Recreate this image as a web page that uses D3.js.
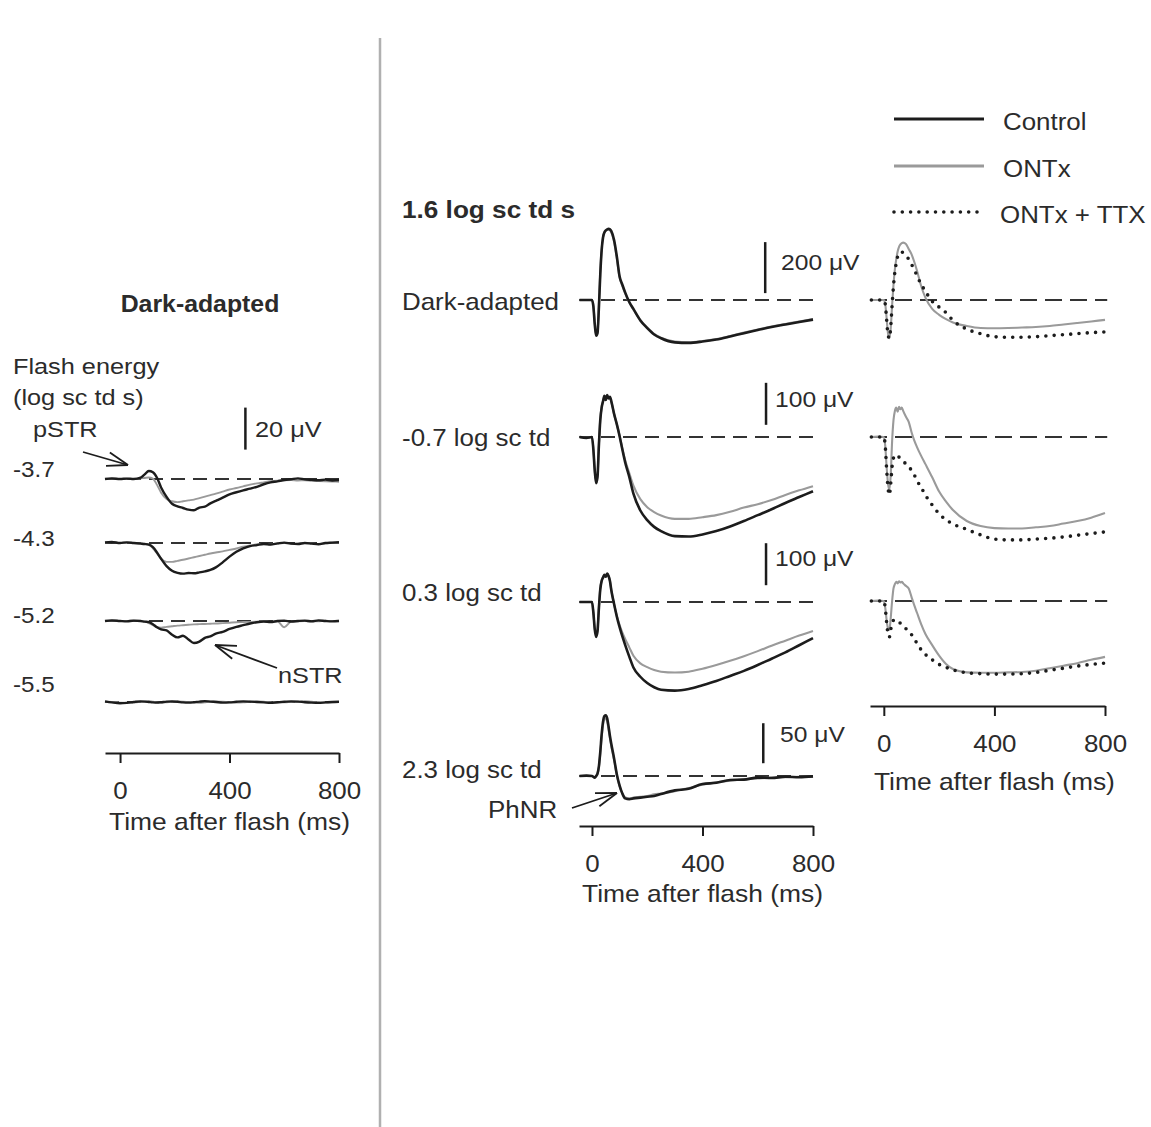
<!DOCTYPE html>
<html><head><meta charset="utf-8">
<script src="https://cdn.jsdelivr.net/npm/d3@7"></script>
<style>
body{margin:0;background:#fff}
svg{display:block}
text{font-family:"Liberation Sans",Arial,Helvetica,sans-serif;fill:#2b2b2b}
</style>
</head><body>
<svg id="c" width="1151" height="1127"></svg>
<script>
// ---------------- DATA ----------------
// Left panel: scotopic threshold responses (µV), time in ms
const leftTimes = [-55,-30,0,25,50,75,90,105,120,135,150,170,190,210,230,250,270,290,310,330,350,375,400,425,450,475,500,525,550,575,600,625,650,675,700,725,750,775,800];
const leftLevels = ["-3.7","-4.3","-5.2","-5.5"];
const str37Control = [0,0.3,0,0.2,0, 0.6,2.2,3.8,3.2,0.6, -4,-8.5,-11.8,-13,-13.8, -14.6,-14.9,-13.6,-13.2,-11.6, -10.4,-8.9,-7.3,-6.3,-5.4, -4.6,-3.7,-2.5,-1.6,-1.1, -0.5,-0.1,0.3,-0.2,-0.4, -0.6,-0.3,-0.7,-0.5];
const str37ONTx    = [0,0.2,0,0.1,0, 0.3,0.5,0.7,0.2,-2.8, -6.5,-9.5,-10.6,-11,-10.6, -10.2,-9.8,-9.1,-8.4,-7.7, -7,-6,-5,-4.3,-3.5, -2.7,-2.1,-1.6,-1.1,-0.8, -0.6,-0.5,-0.7,-0.6,-0.9, -1,-1.1,-1.2,-1.3];
const str43Control = [0.3,0.5,0,0.3,0, -0.3,-0.5,-0.8,-2,-4.5, -7.5,-11,-13.2,-14.2,-14.6, -14.3,-14.4,-14,-13.5,-12.8, -11.6,-9.2,-6.5,-4.2,-2.6, -1.5,-1,-0.5,-0.7,-0.2, 0.2,-0.3,-0.5,0,-0.3, -0.6,0,0.2,0.4];
const str43ONTx    = [0.2,0.4,0,0.2,0, -0.2,-0.4,-0.8,-2.5,-5, -7.5,-9,-9,-8.5,-8, -7.4,-6.8,-6.2,-5.6,-5, -4.5,-4,-3.3,-2.6,-1.8, -1.2,-0.6,-0.4,-0.6,-0.3, 0,-0.4,-0.3,0,-0.2, -0.4,-0.1,0.1,0.2];
const str52Control = [0,0.3,0,-0.2,0.2, 0,-0.3,-0.5,-1.5,-3, -4,-4.5,-6.5,-7.8,-7, -8.8,-10.5,-9.8,-8,-7.3, -6,-5.2,-3.8,-2.8,-2, -1.2,-0.6,-0.3,-0.5,0, 0.2,-0.3,0,0.2,-0.2, 0.3,0,-0.2,0];
const str52ONTx    = [0,0.2,0,0,0.2, 0,-0.3,-1,-2,-3, -3.2,-2.8,-2.5,-2.2,-2, -1.8,-1.6,-1.5,-1.4,-1.3, -1.2,-1,-0.8,-0.6,-0.5, -0.4,-0.3,-0.2,-0.4,-0.2, -3,-0.3,-0.1,0,-0.2, -0.1,0.1,0,0.1];
const str55Control = [0.3,-0.2,-0.6,-0.4,0, 0.3,0.2,0,-0.2,-0.3, -0.1,0.2,0.3,0.1,-0.2, -0.3,-0.1,0.2,0.4,0.2, 0,-0.3,-0.2,0.1,0.3, 0.2,0,-0.2,-0.4,-0.1, 0.1,0.3,0.2,-0.1,-0.3, -0.4,-0.2,0,0.1];
const str55ONTx    = [0.2,0,-0.3,-0.5,-0.2, 0.1,0.3,0.4,0.1,-0.2, -0.3,-0.1,0.1,0.3,0.2, 0,-0.2,-0.4,-0.1,0.2, 0.3,0.1,-0.1,-0.3,-0.2, 0.1,0.3,0.2,-0.1,-0.3, -0.2,0,0.2,0.4,0.1, -0.1,-0.3,-0.2,0];

// Middle / right panels: ERG responses (µV)
const ergTimes = [-45,-20,0,5,10,15,20,25,30,35,40,45,50,55,60,65,70,80,90,100,110,120,135,150,175,200,225,250,300,350,400,450,500,550,600,650,700,750,800];
const ergLabels = ["Dark-adapted","-0.7 log sc td","0.3 log sc td","2.3 log sc td"];
const scaleBarValues = [200,100,100,50];
const daControl  = [0,0,0,-25,-95, -140,-130,-30,100,195, 245,265,273,277,279, 277,270,235,170,92, 60,30,-8,-35,-80, -110,-135,-150,-166,-168, -163,-155,-143,-130,-118, -106,-96,-86,-77];
const daONTx     = [0,0,0,-20,-90, -138,-125,-20,110,200, 248,266,272,275,276, 273,265,228,162,88, 55,26,-10,-38,-78, -108,-133,-148,-163,-166, -161,-153,-141,-128,-116, -104,-94,-84,-75];
const m07Control = [0,-2,0,-30,-80, -110,-95,-20,40,70, 85,98,88,100,92, 96,85,55,30,2, -30,-60,-95,-135,-175, -198,-214,-224,-236,-237, -232,-224,-213,-200,-186, -172,-157,-143,-129];
const m07ONTx    = [0,-2,0,-28,-78, -108,-92,-18,42,72, 86,96,90,98,93, 94,84,55,30,3, -28,-55,-86,-116,-148, -167,-179,-187,-195,-195, -191,-186,-178,-168,-160, -150,-138,-127,-117];
const p03Control = [0,0,0,-25,-65, -83,-70,-15,30,50, 58,64,60,68,62, 50,28,-5,-35,-60, -82,-102,-130,-156,-178, -193,-203,-209,-211,-207, -198,-188,-176,-164,-150, -135,-120,-103,-86];
const p03ONTx    = [0,0,0,-25,-62, -80,-66,-12,32,52, 60,66,62,68,62, 50,28,-5,-33,-55, -73,-88,-108,-128,-146, -155,-162,-166,-168,-166, -159,-150,-140,-129,-117, -104,-92,-80,-69];
const p23Control = [0,0.5,0,-1,-2, 0,3,12,30,52, 68,75,76,72,62, 50,40,22,2,-12, -22,-28,-29,-28,-27, -26,-25,-22.5,-18,-16, -10,-8.5,-5,-4.5,-2, -2.5,-1,-1.5,-0.5];
const p23ONTx    = [0,0.3,0,-1,-2, 0,3,11,28,48, 64,71,72,68,58, 47,37,20,1,-13, -22,-27,-28,-27,-26, -25,-23,-22,-19,-15, -11,-8,-6,-4,-3, -2,-1.5,-1,-1];

// Right panel: ONTx and ONTx + TTX
const rDaONTx    = [0,0,0,-15,-70, -130,-150,-110,-20,60, 120,160,190,208,218, 223,225,220,200,180, 150,115,55,10,-35, -58,-75,-88,-102,-110, -111,-110,-108,-106,-102, -96,-90,-84,-78];
const rDaTTX     = [0,0,0,-15,-75, -135,-150,-105,-20,55, 110,145,170,182,188, 188,185,175,160,140, 120,95,62,35,-5, -28,-50,-80,-114,-132, -144,-146,-146,-144,-140, -136,-132,-128,-125];
const r07ONTx    = [0,1,0,-20,-70, -110,-126,-90,-10,40, 62,70,60,72,66, 70,62,48,36,12, -8,-24,-45,-64,-96, -130,-154,-174,-200,-212, -217,-218,-218,-215,-212, -206,-200,-192,-181];
const r07TTX     = [0,0,0,-20,-75, -120,-138,-110,-70,-50, -45,-42,-44,-48,-52, -55,-58,-64,-71,-79, -90,-104,-120,-138,-162, -183,-197,-207,-220,-233, -243,-245,-245,-243,-241, -238,-234,-230,-226];
const r03ONTx    = [0,1,0,-15,-45, -65,-69,-40,0,30, 40,46,42,47,44, 46,42,36,30,10, -10,-28,-55,-78,-105, -130,-150,-162,-170,-171, -171,-170,-169,-166,-160, -154,-148,-140,-133];
const r03TTX     = [0,0,0,-15,-50, -78,-86,-68,-52,-46, -44,-45,-47,-50,-53, -56,-60,-66,-72,-80, -90,-101,-116,-127,-140, -151,-158,-164,-171,-173, -174,-174,-173,-170,-165, -160,-155,-151,-148];

const tickValues = [0,400,800];
const legendLabels = ["Control","ONTx","ONTx + TTX"];

// ---------------- DRAWING ----------------
const svg = d3.select("#c");
const INK = "#1c1c1c", GRAY = "#9a9a9a", DASH = "#333";

function txt(x, y, s, o = {}) {
  return svg.append("text")
    .attr("transform", `translate(${x},${y}) scale(${o.sx || 1.1},1)`)
    .attr("font-size", o.size || 24)
    .attr("font-weight", o.weight || "normal")
    .attr("text-anchor", o.anchor || "start")
    .text(s);
}
function arrow(x1, y1, x2, y2) {
  const a = Math.atan2(y2 - y1, x2 - x1), L = 22, w = 0.32;
  const g = svg.append("g").attr("stroke", INK).attr("stroke-width", 1.8).attr("fill", "none");
  g.append("line").attr("x1", x1).attr("y1", y1).attr("x2", x2).attr("y2", y2);
  [w, -w].forEach(d => g.append("line")
    .attr("x1", x2 - L * Math.cos(a + d)).attr("y1", y2 - L * Math.sin(a + d))
    .attr("x2", x2).attr("y2", y2));
}
function drawAxis(x, y0, labelY) {
  const g = svg.append("g").attr("transform", `translate(0,${y0})`)
    .call(d3.axisBottom(x).tickValues(tickValues).tickSize(10).tickSizeOuter(0).tickPadding(19));
  g.attr("font-size", null).attr("font-family", null);
  g.select(".domain").attr("stroke", INK).attr("stroke-width", 2);
  g.selectAll(".tick line").attr("stroke", INK).attr("stroke-width", 2);
  g.selectAll(".tick text").attr("font-size", 24).attr("fill", "#2b2b2b")
    .attr("transform", "scale(1.08,1)");
  txt(x(400), labelY, "Time after flash (ms)", {anchor: "middle", sx: 1.1});
}
function trace(x, y, times, vals, color, width, dotted) {
  const line = d3.line().x((d, i) => x(times[i])).y(d => y(d)).curve(d3.curveMonotoneX);
  const p = svg.append("path").datum(vals).attr("d", line).attr("fill", "none")
    .attr("stroke", color).attr("stroke-width", width)
    .attr("stroke-linejoin", "round");
  if (dotted) p.attr("stroke-dasharray", "0,8.3").attr("stroke-linecap", "round");
}
function baseline(x, y, t0, dash) {
  svg.append("line").attr("x1", x(t0)).attr("x2", x(800)).attr("y1", y(0)).attr("y2", y(0))
    .attr("stroke", DASH).attr("stroke-width", 2).attr("stroke-dasharray", dash);
}
function bar(x, y, t, v0, v1) {
  svg.append("line").attr("x1", x(t)).attr("x2", x(t)).attr("y1", y(v0)).attr("y2", y(v1))
    .attr("stroke", INK).attr("stroke-width", 2.5);
}

// divider
svg.append("line").attr("x1", 380).attr("x2", 380).attr("y1", 38).attr("y2", 1127)
  .attr("stroke", "#b0b0b0").attr("stroke-width", 2.5);

// ---- Left panel ----
const xL = d3.scaleLinear().domain([-55, 800]).range([105, 339]);
const leftRows = [
  {base: 479, ctrl: str37Control, ontx: str37ONTx, ly: 477},
  {base: 543, ctrl: str43Control, ontx: str43ONTx, ly: 546},
  {base: 621, ctrl: str52Control, ontx: str52ONTx, ly: 623},
  {base: 702, ctrl: str55Control, ontx: str55ONTx, ly: 692}
];
leftRows.forEach((r, i) => {
  r.y = d3.scaleLinear().domain([-20, 20]).range([r.base + 42, r.base - 42]);
  baseline(xL, r.y, -55, "14,8");
  trace(xL, r.y, leftTimes, r.ontx, GRAY, 1.9);
  trace(xL, r.y, leftTimes, r.ctrl, INK, 2.4);
  txt(13, r.ly, leftLevels[i], {size: 22, sx: 1.1});
});
bar(xL, leftRows[0].y, 458, 14, 34);
txt(255, 437, "20 \u03BCV", {size: 22, sx: 1.15});
txt(200, 312, "Dark-adapted", {size: 23, weight: "bold", anchor: "middle", sx: 1.08});
txt(13, 374, "Flash energy", {size: 22, sx: 1.15});
txt(13, 405, "(log sc td s)", {size: 22, sx: 1.15});
txt(33, 437, "pSTR", {size: 22, sx: 1.15});
txt(278, 683, "nSTR", {size: 22, sx: 1.15});
arrow(83, 452, 128, 465);
arrow(277, 668, 215, 645);
drawAxis(xL, 753, 830);

// ---- Middle panel ----
const xM = d3.scaleLinear().domain([-47, 800]).range([579, 813]);
const midRows = [
  {base: 300, k: 0.255, ctrl: daControl, ontx: daONTx, ly: 310, bt: 627, b0: 27, lab: [781, 270]},
  {base: 437, k: 0.42, ctrl: m07Control, ontx: m07ONTx, ly: 446, bt: 630, b0: 29, lab: [775, 407]},
  {base: 602, k: 0.42, ctrl: p03Control, ontx: p03ONTx, ly: 601, bt: 630, b0: 40, lab: [775, 566]},
  {base: 776, k: 0.8, ctrl: p23Control, ontx: p23ONTx, ly: 778, bt: 620, b0: 16, lab: [780, 742]}
];
midRows.forEach((r, i) => {
  r.y = d3.scaleLinear().domain([0, 100]).range([r.base, r.base - 100 * r.k]);
  baseline(xM, r.y, -47, "14,8");
  trace(xM, r.y, ergTimes, r.ontx, GRAY, 2.1);
  trace(xM, r.y, ergTimes, r.ctrl, INK, 2.6);
  txt(402, r.ly, ergLabels[i], {size: 24, sx: 1.08});
  bar(xM, r.y, r.bt, r.b0, r.b0 + scaleBarValues[i]);
  txt(r.lab[0], r.lab[1], scaleBarValues[i] + " \u03BCV", {size: 22, sx: 1.12});
});
txt(402, 218, "1.6 log sc td s", {size: 24, weight: "bold", sx: 1.09});
txt(488, 818, "PhNR", {size: 24, sx: 1.08});
arrow(572, 808, 617, 793);
drawAxis(xM, 826, 902);

// ---- Right panel ----
const xR = d3.scaleLinear().domain([-50, 800]).range([870, 1105]);
const rightRows = [
  {base: 300, k: 0.255, ontx: rDaONTx, ttx: rDaTTX},
  {base: 437, k: 0.42, ontx: r07ONTx, ttx: r07TTX},
  {base: 601, k: 0.42, ontx: r03ONTx, ttx: r03TTX}
];
rightRows.forEach(r => {
  r.y = d3.scaleLinear().domain([0, 100]).range([r.base, r.base - 100 * r.k]);
  svg.append("line").attr("x1", xR(-50)).attr("x2", xR(808)).attr("y1", r.y(0)).attr("y2", r.y(0))
    .attr("stroke", DASH).attr("stroke-width", 2).attr("stroke-dasharray", "17,8");
  trace(xR, r.y, ergTimes, r.ontx, GRAY, 2.1);
  trace(xR, r.y, ergTimes, r.ttx, INK, 3.6, true);
});
drawAxis(xR, 706, 790);

// ---- Legend ----
const legY = [119, 166, 212];
const legStyles = [
  {c: INK, w: 3.2, d: null}, {c: GRAY, w: 3, d: null}, {c: INK, w: 3.6, d: "0,8.3"}
];
legendLabels.forEach((s, i) => {
  const l = svg.append("line").attr("x1", 894).attr("x2", 984).attr("y1", legY[i]).attr("y2", legY[i])
    .attr("stroke", legStyles[i].c).attr("stroke-width", legStyles[i].w);
  if (legStyles[i].d) l.attr("stroke-dasharray", legStyles[i].d).attr("stroke-linecap", "round");
  txt(i === 2 ? 1000 : 1003, legY[i] + 11, s, {size: 24, sx: 1.08});
});
</script>
</body></html>
